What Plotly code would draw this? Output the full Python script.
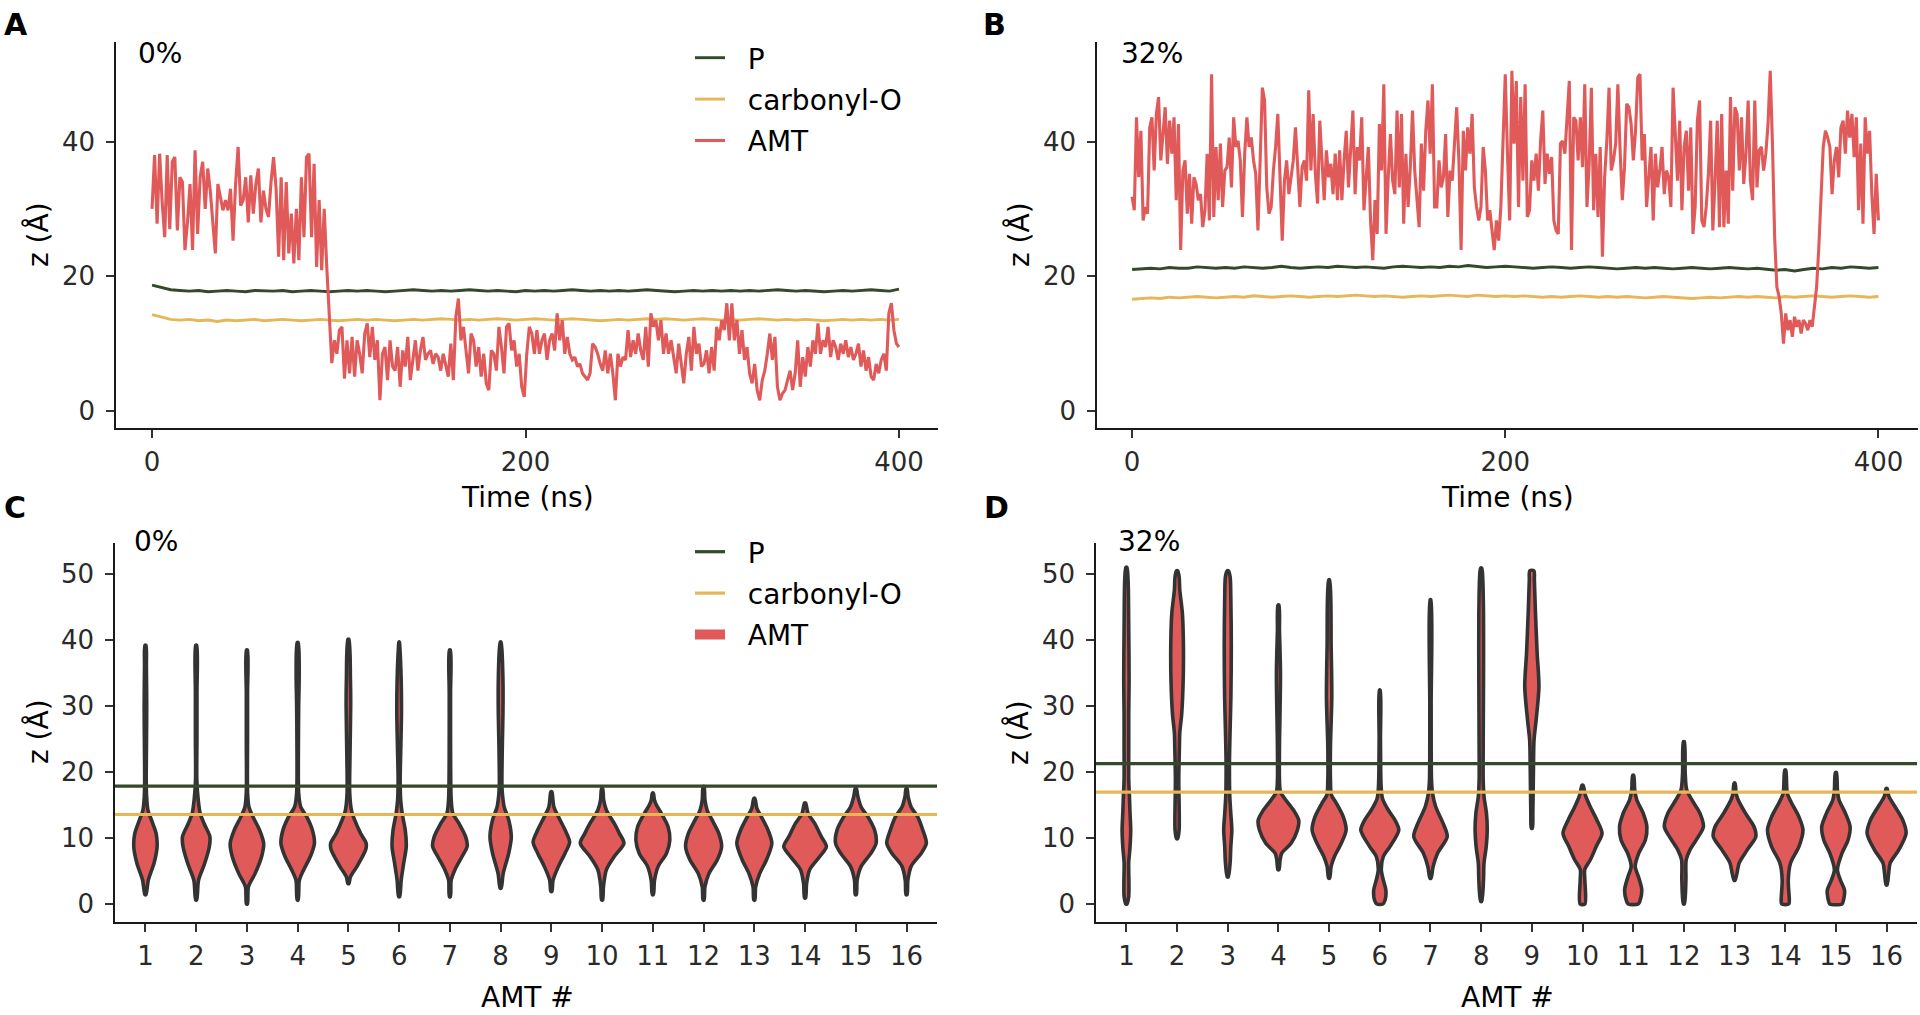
import numpy as np
import plotly.graph_objects as go

W, H = 1920, 1015
RED = '#E05A5A'
GREEN = '#33492A'
GOLD = '#E6B658'
OUTLINE = '#333333'
FONT = 'DejaVu Sans'

# ---------------- time-series data (z in Angstrom), 0-400 ns ----------------
amt_0pct = [
    30.0, 38.0, 27.8, 38.2, 31.0, 25.8, 38.0, 27.0, 37.0, 37.7,
    26.8, 34.7, 34.0, 23.9, 28.0, 33.7, 23.9, 38.7, 26.3, 34.7,
    37.0, 30.0, 36.0, 32.7, 28.0, 23.4, 33.7, 32.0, 29.8, 31.3,
    29.8, 33.0, 25.3, 33.7, 39.2, 30.5, 31.3, 34.7, 28.0, 35.0,
    29.3, 33.7, 36.0, 28.0, 32.7, 30.0, 28.8, 34.0, 37.7, 33.0,
    22.9, 34.7, 22.4, 34.0, 23.4, 29.3, 21.9, 30.0, 22.4, 34.7,
    25.8, 37.7, 38.2, 25.8, 36.7, 21.4, 31.3, 20.9, 30.0, 21.4,
    13.5,
    7.1, 10.5, 8.5, 12.0, 12.5, 4.8, 10.5, 5.6, 11.0, 5.1,
    10.5, 8.5, 5.6, 11.5, 13.0, 8.0, 12.5, 7.6, 10.5, 1.6,
    8.5, 9.5, 4.6, 10.5, 6.6, 6.0, 9.5, 3.6, 9.0, 6.6,
    11.0, 4.6, 8.0, 10.5, 6.0, 9.0, 11.0, 7.6, 8.5, 9.0,
    7.0, 8.5, 8.0, 6.0, 8.5, 6.6, 5.1, 10.0, 4.6, 14.0,
    16.7, 10.5, 12.5, 9.0, 5.6, 11.5, 10.5, 6.6, 9.5, 5.1,
    8.5, 4.1, 3.1, 9.0, 8.5, 6.0, 12.5, 9.5, 5.6, 12.5,
    13.0, 9.0, 10.5, 6.6, 8.5, 3.6, 2.1, 8.5, 12.5,
    11.5, 8.5, 12.0, 8.5, 10.5, 11.5, 7.6, 10.5, 11.5, 9.0,
    14.5, 10.5, 13.5, 8.5, 11.0, 8.5, 7.6, 8.0, 6.6, 7.0,
    5.6, 5.1, 4.6, 5.6, 10.0, 9.5, 8.5, 7.0, 6.0, 9.0,
    5.6, 8.5, 5.6, 1.6, 8.5, 6.6, 8.0, 7.6, 12.0, 8.0,
    10.5, 8.5, 11.5, 9.0, 7.6, 12.5, 6.6, 14.5, 12.5, 13.5,
    10.5, 13.5, 8.5, 11.5, 8.5, 10.5, 8.0, 5.6, 10.0, 7.0,
    4.1, 8.5, 11.0, 6.0, 12.5, 8.5, 10.0, 6.6, 7.0, 9.0,
    5.6, 9.5, 6.0, 12.5, 10.5, 13.5, 12.0, 16.0, 10.5, 16.0,
    10.5, 13.5, 8.5, 12.0, 7.6, 9.5, 5.6, 4.1, 7.0, 3.1,
    1.6, 4.6, 6.0, 8.5, 11.5, 7.6, 11.0, 3.6, 1.6, 2.6,
    3.1, 4.6, 6.0, 3.1, 5.6, 10.5, 3.6, 8.0, 5.1, 9.5,
    6.6, 10.5, 8.5, 13.0, 8.5, 10.5, 9.5, 12.5, 8.0, 10.5,
    9.5, 7.6, 10.0, 8.5, 10.5, 8.0, 9.5, 7.6, 8.5, 10.0,
    6.6, 9.0, 6.0, 8.0, 5.1, 4.6, 7.0, 5.6, 7.6, 8.5,
    6.0, 14.5, 16.0, 12.0, 10.0, 9.5,
]
p_0pct = [
    18.7, 18.3, 18.0, 17.9, 17.8, 17.9, 17.7, 17.8, 17.9, 17.8,
    17.7, 17.9, 17.8, 17.8, 17.9, 17.7, 17.8, 17.9, 17.8, 17.7,
    17.8, 17.9, 17.8, 17.9, 17.8, 17.7, 17.8, 17.9, 18.0, 17.9,
    17.8, 17.9, 17.8, 17.9, 18.0, 17.9, 17.8, 17.9, 17.8, 17.7,
    17.9, 17.8, 17.9, 17.8, 17.9, 18.0, 17.9, 17.8, 17.9, 17.8,
    17.9, 17.8, 17.9, 18.0, 17.9, 17.8, 17.7, 17.8, 17.9, 17.8,
    17.9, 17.8, 17.9, 17.8, 17.9, 17.8, 17.9, 18.0, 17.9, 17.8,
    17.9, 17.8, 17.7, 17.8, 17.9, 17.8, 17.9, 18.0, 17.9, 17.8,
    18.1,
]
carb_0pct = [
    14.3, 13.9, 13.6, 13.5, 13.6, 13.4, 13.5, 13.3, 13.5, 13.4,
    13.5, 13.6, 13.4, 13.5, 13.6, 13.5, 13.4, 13.5, 13.6, 13.5,
    13.4, 13.5, 13.6, 13.5, 13.6, 13.5, 13.4, 13.5, 13.6, 13.5,
    13.6, 13.7, 13.6, 13.5, 13.6, 13.5, 13.6, 13.7, 13.6, 13.5,
    13.6, 13.7, 13.6, 13.5, 13.6, 13.7, 13.6, 13.5, 13.4, 13.5,
    13.6, 13.5, 13.6, 13.7, 13.6, 13.7, 13.6, 13.5, 13.6, 13.7,
    13.6, 13.5, 13.6, 13.5, 13.6, 13.7, 13.6, 13.5, 13.6, 13.5,
    13.6, 13.5, 13.4, 13.5, 13.6, 13.5, 13.6, 13.5, 13.6, 13.5,
    13.6,
]
amt_32pct = [
    31.8, 29.8, 43.6, 34.7, 41.6, 28.3, 30.3, 29.3, 42.1, 43.6,
    35.7, 44.1, 46.6, 37.2, 41.1, 45.1, 36.7, 43.1, 38.2, 43.6,
    31.3, 42.6, 23.9, 35.7, 37.2, 29.3, 35.2, 27.8, 34.7, 33.7,
    31.3, 32.2, 27.3, 29.8, 38.2, 28.3, 50.0, 28.8, 39.2, 31.3,
    39.7, 30.3, 35.7, 36.2, 40.6, 33.2, 43.6, 39.2, 40.1, 37.2,
    28.8, 38.2, 43.6, 39.2, 40.6, 37.2, 35.2, 26.8, 37.2, 48.0,
    46.1, 33.2, 29.3, 30.3, 35.7, 39.2, 44.1, 35.7, 25.3, 34.2,
    37.2, 32.2, 34.7, 37.2, 42.1, 35.2, 30.3, 36.2, 37.2, 34.2,
    47.6, 35.7, 44.1, 35.2, 30.8, 43.1, 36.2, 31.3, 38.7, 34.7,
    36.7, 32.2, 38.2, 31.3, 38.7, 31.3, 37.2, 41.6, 33.2, 38.2,
    44.6, 32.2, 39.2, 37.2, 43.6, 29.8, 34.7, 39.2, 28.3, 22.4,
    31.3, 26.3, 42.6, 35.7, 48.5, 26.3, 34.7, 41.1, 34.2, 32.2,
    44.6, 33.2, 44.1, 27.8, 38.2, 30.3, 36.2, 44.6, 35.7, 31.8,
    27.3, 39.7, 32.7, 41.6, 46.1, 38.2, 48.5, 30.3, 30.3, 37.2,
    33.2, 34.7, 41.1, 28.8, 35.7, 34.2, 39.2, 45.1, 37.2, 23.9,
    41.6, 35.7, 42.1, 38.2, 44.1, 33.2, 30.3, 28.3, 30.3, 39.2,
    35.7, 28.3, 29.8, 26.3, 23.9, 28.3, 25.3, 30.3, 42.1, 50.0,
    38.2,
    28.3, 50.5, 39.7, 49.0, 30.3, 46.6, 34.2, 48.5, 28.8, 29.8,
    37.2, 34.2, 38.2, 32.7, 40.1, 44.6, 33.7, 38.2, 35.2, 37.7,
    28.3, 26.8, 26.3, 39.7, 40.1, 38.2, 43.6, 49.0, 23.9, 43.6,
    43.1, 37.2, 43.6, 36.2, 48.5, 30.3, 36.7, 48.0, 29.8, 38.2,
    28.8, 39.2, 22.9, 34.7, 40.1, 48.0, 35.7, 37.2, 39.7, 48.5,
    38.7, 31.3, 36.2, 45.6, 45.1, 42.6, 37.2, 41.6, 49.5, 50.0,
    37.2, 41.1, 30.3, 34.7, 39.2, 28.3, 38.2, 33.2, 35.7, 39.2,
    32.2, 35.7, 34.7, 30.3, 48.0, 41.1, 34.2, 43.1, 29.8, 39.2,
    41.6, 32.7, 42.1, 26.3, 30.3, 43.1, 46.1, 28.3, 27.3, 30.3,
    35.2, 43.1, 26.8, 34.2, 43.1, 27.3, 44.1, 27.3, 35.7, 27.8,
    46.6, 32.7, 45.1, 44.1, 35.7, 43.6, 33.7, 38.2, 46.1, 34.2,
    31.3, 46.1, 33.2, 38.7, 39.2, 35.7, 38.2, 42.6, 50.5, 39.7,
    25.8, 18.4, 17.0, 14.5, 10.0, 14.5, 12.0, 13.5, 11.0, 14.0,
    12.5, 13.5, 11.5, 13.5, 13.0, 12.0, 13.5, 12.5, 16.0, 18.4,
    24.3, 32.2, 39.2, 41.6, 40.6, 39.2, 32.2, 37.2, 39.2, 34.7,
    42.1, 43.1, 38.2, 44.6, 40.6, 44.1, 37.7, 43.6, 29.8, 39.7,
    27.8, 43.6, 38.2, 41.6, 32.2, 26.3, 35.2, 28.3,
]
p_32pct = [
    21.0, 21.1, 21.2, 21.1, 21.3, 21.2, 21.2, 21.4, 21.3, 21.2,
    21.3, 21.2, 21.4, 21.3, 21.2, 21.3, 21.5, 21.3, 21.2, 21.3,
    21.4, 21.3, 21.5, 21.4, 21.3, 21.4, 21.3, 21.2, 21.4, 21.5,
    21.4, 21.3, 21.4, 21.3, 21.5, 21.4, 21.6, 21.4, 21.3, 21.4,
    21.5, 21.4, 21.3, 21.2, 21.3, 21.4, 21.3, 21.2, 21.3, 21.4,
    21.3, 21.2, 21.1, 21.2, 21.3, 21.2, 21.3, 21.2, 21.1, 21.2,
    21.3, 21.2, 21.1, 21.2, 21.3, 21.2, 21.1, 21.2, 21.1, 20.9,
    21.0, 20.8, 21.0, 21.2, 21.1, 21.3, 21.2, 21.4, 21.3, 21.2,
    21.3,
]
carb_32pct = [
    16.6, 16.7, 16.8, 16.7, 16.9, 16.8, 16.9, 17.0, 16.9, 16.8,
    16.9, 17.0, 16.9, 17.1, 17.0, 16.9, 17.0, 17.1, 17.0, 16.9,
    17.0, 17.1, 17.0, 17.1, 17.2, 17.1, 17.0, 17.1, 17.0, 16.9,
    17.0, 17.1, 17.0, 17.1, 17.2, 17.1, 17.0, 17.2, 17.1, 17.0,
    17.1, 17.0, 17.1, 17.0, 16.9, 17.0, 16.9, 17.0, 17.1, 17.0,
    16.9, 17.0, 16.9, 17.0, 16.9, 16.8, 16.9, 17.0, 16.9, 16.8,
    16.7, 16.8, 16.9, 16.8, 16.9, 17.0, 16.9, 17.0, 16.9, 16.8,
    17.0, 16.9, 17.0, 17.1, 17.0, 16.9, 17.0, 17.1, 17.0, 16.9,
    17.0,
]

# ---------------- violin profiles: z levels and half-widths (AMT # units) ----------------
amt_numbers = list(range(1, 17))
violin_z_0pct = [
    [1.4, 3.6, 6.2, 8.7, 10.7, 12.7, 14.2, 16.3, 18.8, 24, 30, 36, 39.2],
    [0.6, 3.6, 6.2, 8.7, 10.2, 12.2, 13.7, 15.8, 18.8, 25, 32, 39.2],
    [0.0, 2.6, 4.6, 7.2, 9.2, 11.2, 13.2, 14.7, 16.8, 25, 32, 38.5],
    [0.6, 3.6, 5.2, 7.2, 9.2, 11.2, 13.2, 14.7, 16.8, 25, 30, 35, 39.6],
    [3.1, 4.1, 5.7, 8.2, 9.2, 10.7, 12.7, 14.2, 16.8, 22, 30, 34, 40.1],
    [1.1, 3.6, 6.2, 8.7, 11.2, 13.7, 15.8, 18.8, 23.8, 28.9, 33.9, 39.0, 39.7],
    [1.1, 3.6, 5.2, 7.2, 8.7, 10.2, 12.2, 13.7, 15.8, 25, 32, 38.5],
    [2.4, 4.6, 7.7, 10.2, 12.7, 14.7, 16.3, 17.8, 23.8, 28.9, 33.9, 39.0, 39.7],
    [1.9, 3.6, 5.7, 7.7, 9.4, 11.2, 13.2, 14.7, 15.8, 17.0],
    [0.6, 2.6, 5.2, 7.2, 9.2, 10.7, 12.2, 14.2, 15.8, 17.5],
    [1.4, 3.6, 5.7, 7.7, 9.7, 11.7, 13.7, 15.0, 15.8, 16.8],
    [0.6, 2.6, 4.6, 6.7, 8.7, 10.7, 12.7, 14.2, 15.8, 17.8],
    [0.6, 2.6, 4.6, 6.7, 9.2, 11.2, 13.2, 14.5, 16.0],
    [0.9, 3.1, 5.2, 7.2, 8.7, 10.2, 12.2, 13.7, 15.3],
    [1.4, 3.6, 5.7, 7.7, 9.2, 11.2, 13.2, 14.7, 16.3, 17.5],
    [1.4, 3.6, 5.7, 7.7, 9.2, 11.2, 13.2, 14.7, 16.3, 17.5],
]
violin_w_0pct = [
    [0.01, 0.056, 0.17, 0.23, 0.21, 0.12, 0.05, 0.023, 0.015, 0.02, 0.025, 0.018, 0.01],
    [0.01, 0.046, 0.17, 0.26, 0.27, 0.155, 0.08, 0.04, 0.013, 0.015, 0.015, 0.01],
    [0.01, 0.03, 0.16, 0.29, 0.33, 0.25, 0.12, 0.04, 0.013, 0.012, 0.012, 0.01],
    [0.01, 0.033, 0.12, 0.25, 0.33, 0.29, 0.18, 0.06, 0.02, 0.015, 0.02, 0.03, 0.01],
    [0.01, 0.04, 0.17, 0.34, 0.35, 0.24, 0.125, 0.06, 0.026, 0.03, 0.045, 0.04, 0.01],
    [0.01, 0.04, 0.09, 0.14, 0.12, 0.06, 0.03, 0.02, 0.033, 0.046, 0.04, 0.013, 0.005],
    [0.01, 0.025, 0.1, 0.24, 0.34, 0.31, 0.18, 0.06, 0.026, 0.013, 0.013, 0.01],
    [0.01, 0.05, 0.16, 0.21, 0.16, 0.07, 0.04, 0.026, 0.033, 0.046, 0.046, 0.02, 0.005],
    [0.01, 0.033, 0.14, 0.27, 0.36, 0.27, 0.14, 0.05, 0.03, 0.01],
    [0.01, 0.026, 0.085, 0.24, 0.43, 0.34, 0.24, 0.085, 0.03, 0.01],
    [0.01, 0.033, 0.105, 0.27, 0.335, 0.30, 0.17, 0.07, 0.03, 0.01],
    [0.01, 0.026, 0.105, 0.27, 0.355, 0.30, 0.17, 0.07, 0.026, 0.01],
    [0.01, 0.026, 0.105, 0.24, 0.345, 0.27, 0.14, 0.05, 0.01],
    [0.01, 0.03, 0.09, 0.29, 0.42, 0.32, 0.19, 0.06, 0.01],
    [0.01, 0.026, 0.105, 0.30, 0.40, 0.37, 0.24, 0.105, 0.04, 0.01],
    [0.01, 0.026, 0.09, 0.29, 0.39, 0.32, 0.22, 0.09, 0.03, 0.01],
]
violin_z_32pct = [
    [0.0, 1.1, 3.0, 6.2, 8.5, 11.2, 14.0, 16.3, 18.8, 23.8, 28.9, 33.9, 41.5, 49.1, 51.0],
    [9.9, 11.2, 18.8, 23.8, 25.9, 28.9, 33.9, 39.0, 44.0, 47.6, 49.6, 50.5],
    [4.1, 6.2, 8.7, 11.2, 13.7, 16.3, 21.3, 26.4, 31.4, 39.0, 46.6, 49.6, 50.5],
    [5.2, 6.7, 7.7, 9.2, 11.2, 12.7, 14.2, 15.8, 17.0, 18.8, 23.8, 34.9, 41.5, 45.3],
    [3.9, 5.7, 7.2, 9.2, 11.2, 13.2, 15.3, 16.5, 18.8, 23.8, 31.4, 39.0, 49.1],
    [0.0, 0.6, 2.1, 3.6, 5.2, 7.2, 8.7, 11.2, 12.7, 14.2, 16.0, 17.8, 25.0, 32.4],
    [3.9, 5.7, 7.7, 10.2, 12.2, 14.7, 16.8, 18.8, 30.0, 46.1],
    [0.4, 3.6, 6.2, 8.7, 11.2, 13.7, 16.3, 18.8, 23.8, 33.9, 44.0, 50.1, 50.9],
    [11.5, 13.7, 21.3, 24.8, 27.9, 32.9, 38.0, 44.0, 49.1, 50.5],
    [0.0, 3.6, 5.2, 6.7, 8.7, 10.7, 12.7, 14.7, 16.5, 18.0],
    [0.0, 0.4, 2.1, 4.1, 5.7, 7.7, 9.7, 11.7, 13.7, 15.8, 17.3, 19.5],
    [0.0, 3.6, 6.7, 8.2, 10.2, 11.7, 13.7, 15.8, 17.3, 19.8, 24.6],
    [3.6, 4.6, 6.2, 8.2, 10.2, 11.7, 13.7, 15.8, 16.8, 18.3],
    [0.0, 0.6, 3.6, 6.2, 8.7, 11.2, 13.2, 15.3, 16.8, 20.3],
    [0.0, 0.6, 2.1, 3.6, 5.2, 7.7, 9.7, 11.7, 13.7, 15.8, 17.3, 19.9],
    [2.9, 4.6, 6.2, 8.2, 10.7, 12.7, 14.7, 16.3, 17.5],
]
violin_w_32pct = [
    [0.01, 0.045, 0.05, 0.045, 0.07, 0.085, 0.07, 0.06, 0.046, 0.046, 0.046, 0.053, 0.046, 0.033, 0.01],
    [0.01, 0.04, 0.033, 0.046, 0.053, 0.092, 0.12, 0.125, 0.105, 0.053, 0.04, 0.01],
    [0.01, 0.046, 0.06, 0.08, 0.06, 0.04, 0.033, 0.046, 0.062, 0.07, 0.06, 0.046, 0.01],
    [0.01, 0.033, 0.066, 0.25, 0.375, 0.40, 0.30, 0.14, 0.04, 0.02, 0.02, 0.04, 0.02, 0.01],
    [0.01, 0.04, 0.105, 0.24, 0.335, 0.28, 0.14, 0.046, 0.026, 0.026, 0.053, 0.04, 0.01],
    [0.06, 0.105, 0.12, 0.07, 0.03, 0.07, 0.20, 0.375, 0.30, 0.17, 0.053, 0.026, 0.013, 0.008],
    [0.01, 0.053, 0.14, 0.33, 0.25, 0.105, 0.04, 0.02, 0.013, 0.008],
    [0.01, 0.046, 0.056, 0.10, 0.12, 0.105, 0.056, 0.04, 0.04, 0.046, 0.046, 0.026, 0.01],
    [0.01, 0.02, 0.033, 0.043, 0.085, 0.14, 0.105, 0.072, 0.05, 0.04],
    [0.046, 0.046, 0.043, 0.155, 0.27, 0.385, 0.285, 0.155, 0.056, 0.01],
    [0.10, 0.13, 0.17, 0.105, 0.04, 0.11, 0.24, 0.27, 0.20, 0.07, 0.03, 0.01],
    [0.01, 0.04, 0.046, 0.12, 0.285, 0.385, 0.32, 0.155, 0.056, 0.026, 0.01],
    [0.01, 0.046, 0.09, 0.25, 0.42, 0.385, 0.22, 0.07, 0.03, 0.01],
    [0.07, 0.08, 0.06, 0.105, 0.27, 0.35, 0.27, 0.125, 0.04, 0.01],
    [0.12, 0.15, 0.17, 0.09, 0.03, 0.12, 0.24, 0.28, 0.19, 0.06, 0.03, 0.01],
    [0.01, 0.04, 0.07, 0.24, 0.385, 0.32, 0.17, 0.045, 0.01],
]

time_ticks = [0, 200, 400]
z_ticks_top = [0, 20, 40]
z_ticks_bottom = [0, 10, 20, 30, 40, 50]
x_range_top_a = [-19.3, 420.9]
x_range_top_b = [-18.8, 421.2]
x_range_bottom = [0.4, 16.6]
y_range_top = [-2.52, 54.78]
y_range_bottom = [-2.73, 54.7]


def fx(p):
    return p / W


def fy(p):
    return 1 - p / H


fig = go.Figure()

# ---------------- panels A and B: time series ----------------
panels_ts = [
    ('x', 'y', amt_0pct, p_0pct, carb_0pct, True),
    ('x2', 'y2', amt_32pct, p_32pct, carb_32pct, False),
]
for xa, ya, amt, p, carb, show in panels_ts:
    t_p = np.linspace(0, 400, len(p))
    t_c = np.linspace(0, 400, len(carb))
    t_a = np.linspace(0, 400, len(amt))
    fig.add_trace(go.Scatter(x=t_p, y=p, mode='lines', name='\u00a0\u00a0P',
                             line=dict(color=GREEN, width=2.9), xaxis=xa, yaxis=ya,
                             showlegend=show, legend='legend', legendgroup='P',
                             hoverinfo='skip'))
    fig.add_trace(go.Scatter(x=t_c, y=carb, mode='lines', name='\u00a0\u00a0carbonyl-O',
                             line=dict(color=GOLD, width=2.9), xaxis=xa, yaxis=ya,
                             showlegend=show, legend='legend', legendgroup='C',
                             hoverinfo='skip'))
    fig.add_trace(go.Scatter(x=t_a, y=amt, mode='lines', name='\u00a0\u00a0AMT',
                             line=dict(color=RED, width=3.1), xaxis=xa, yaxis=ya,
                             showlegend=show, legend='legend', legendgroup='A',
                             hoverinfo='skip'))

# ---------------- panels C and D: violins ----------------
panels_v = [
    ('x3', 'y3', violin_z_0pct, violin_w_0pct, p_0pct, carb_0pct, True),
    ('x4', 'y4', violin_z_32pct, violin_w_32pct, p_32pct, carb_32pct, False),
]
for xa, ya, zs, ws, p, carb, show in panels_v:
    for c, z, w in zip(amt_numbers, zs, ws):
        xs = [c + v for v in w] + [c - v for v in w[::-1]] + [c + w[0]]
        ys = list(z) + list(z[::-1]) + [z[0]]
        fig.add_trace(go.Scatter(x=xs, y=ys, mode='lines', fill='toself', fillcolor=RED,
                                 line=dict(color=OUTLINE, width=3.6, shape='spline', smoothing=0.8),
                                 xaxis=xa, yaxis=ya, showlegend=False, hoverinfo='skip'))
    p_mean = float(np.mean(p))
    c_mean = float(np.mean(carb))
    fig.add_trace(go.Scatter(x=x_range_bottom, y=[p_mean, p_mean], mode='lines', name='\u00a0\u00a0P',
                             line=dict(color=GREEN, width=3.2), xaxis=xa, yaxis=ya,
                             showlegend=show, legend='legend2', legendgroup='P2', hoverinfo='skip'))
    fig.add_trace(go.Scatter(x=x_range_bottom, y=[c_mean, c_mean], mode='lines',
                             name='\u00a0\u00a0carbonyl-O',
                             line=dict(color=GOLD, width=3.2), xaxis=xa, yaxis=ya,
                             showlegend=show, legend='legend2', legendgroup='C2', hoverinfo='skip'))
    if show:
        fig.add_trace(go.Scatter(x=[None], y=[None], mode='lines', name='\u00a0\u00a0AMT',
                                 line=dict(color=RED, width=18), xaxis=xa, yaxis=ya,
                                 showlegend=True, legend='legend2', legendgroup='A2',
                                 hoverinfo='skip'))

# ---------------- axes ----------------
axis_common = dict(showline=True, linecolor='#1a1a1a', linewidth=1.6, ticks='outside',
                   ticklen=8, tickwidth=1.6, tickcolor='#333333', showgrid=False,
                   zeroline=False, tickfont=dict(family=FONT, size=26, color='#2a2a2a'),
                   fixedrange=True)

layout_axes = dict(
    xaxis=dict(domain=[fx(116), fx(938)], range=x_range_top_a, tickvals=time_ticks,
               anchor='y', ticklabelstandoff=2, **axis_common),
    yaxis=dict(domain=[fy(428), fy(42)], range=y_range_top, tickvals=z_ticks_top,
               anchor='x', ticklabelstandoff=6, **axis_common),
    xaxis2=dict(domain=[fx(1097), fx(1918)], range=x_range_top_b, tickvals=time_ticks,
                anchor='y2', ticklabelstandoff=2, **axis_common),
    yaxis2=dict(domain=[fy(428), fy(42)], range=y_range_top, tickvals=z_ticks_top,
                anchor='x2', ticklabelstandoff=6, **axis_common),
    xaxis3=dict(domain=[fx(115), fx(937)], range=x_range_bottom, tickvals=amt_numbers,
                anchor='y3', ticklabelstandoff=2, **axis_common),
    yaxis3=dict(domain=[fy(922), fy(543)], range=y_range_bottom, tickvals=z_ticks_bottom,
                anchor='x3', ticklabelstandoff=6, **axis_common),
    xaxis4=dict(domain=[fx(1096), fx(1917)], range=x_range_bottom, tickvals=amt_numbers,
                anchor='y4', ticklabelstandoff=2, **axis_common),
    yaxis4=dict(domain=[fy(922), fy(543)], range=y_range_bottom, tickvals=z_ticks_bottom,
                anchor='x4', ticklabelstandoff=6, **axis_common),
)

legend_common = dict(xanchor='left', yanchor='top', bgcolor='rgba(0,0,0,0)',
                     font=dict(family=FONT, size=28, color='black'),
                     traceorder='grouped', tracegroupgap=2, itemclick=False,
                     itemdoubleclick=False)

annotations = []


def add_text(text, x, y, size, xanchor='center', angle=0, bold=False, color='black'):
    annotations.append(dict(text=('<b>%s</b>' % text) if bold else text,
                            x=fx(x), y=fy(y), xref='paper', yref='paper',
                            xanchor=xanchor, yanchor='middle', showarrow=False,
                            textangle=angle,
                            font=dict(family=FONT, size=size, color=color)))


# panel letters
add_text('A', 2, 24, 30, xanchor='left', bold=True)
add_text('B', 981, 24, 30, xanchor='left', bold=True)
add_text('C', 2, 507, 30, xanchor='left', bold=True)
add_text('D', 982, 507, 30, xanchor='left', bold=True)
# condition labels
add_text('0%', 136, 53, 28, xanchor='left')
add_text('32%', 1119, 53, 28, xanchor='left')
add_text('0%', 132, 541, 28, xanchor='left')
add_text('32%', 1116, 541, 28, xanchor='left')
# axis titles
add_text('z (Å)', 38, 235, 28, angle=-90)
add_text('z (Å)', 1019, 235, 28, angle=-90)
add_text('z (Å)', 38, 732, 28, angle=-90)
add_text('z (Å)', 1018, 732, 28, angle=-90)
add_text('Time (ns)', 527, 497, 28)
add_text('Time (ns)', 1507, 497, 28)
add_text('AMT #', 527, 997, 28)
add_text('AMT #', 1507, 997, 28)

fig.update_layout(
    width=W, height=H, margin=dict(l=0, r=0, t=0, b=0, pad=0),
    paper_bgcolor='white', plot_bgcolor='white',
    font=dict(family=FONT, color='black'),
    legend=dict(x=fx(690), y=fy(33), **legend_common),
    legend2=dict(x=fx(690), y=fy(527), **legend_common),
    annotations=annotations,
    hovermode=False,
    **layout_axes,
)

fig.write_html("out.html", config={'displayModeBar': False},
               post_script="document.body.style.margin='0';document.body.style.overflow='hidden';")
